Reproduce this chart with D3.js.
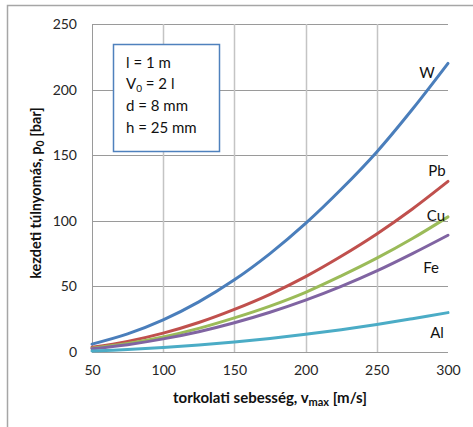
<!DOCTYPE html>
<html>
<head>
<meta charset="utf-8">
<script src="https://cdn.jsdelivr.net/npm/d3@7"></script>
<style>
  html, body { margin: 0; padding: 0; background: #fff; }
  svg { display: block; font-family: Lato, "Noto Sans", sans-serif; }
</style>
</head>
<body>
<svg id="chart" width="473" height="427"></svg>
<script>
// Muzzle velocity (m/s)
const velocity = [50, 75, 100, 125, 150, 175, 200, 225, 250, 275, 300];

// Initial overpressure (bar) for each projectile material
const pW  = [6.0, 13.8, 24.5, 38.2, 55.0, 75.0, 98.0, 124.0, 152.5, 185.0, 220.0];
const pPb = [3.6, 8.1, 14.4, 22.5, 32.5, 44.0, 57.5, 73.0, 90.0, 109.0, 130.0];
const pCu = [2.9, 6.5, 11.5, 18.0, 26.0, 35.0, 45.5, 58.0, 71.5, 86.5, 103.0];
const pFe = [2.5, 5.6, 10.0, 15.5, 22.3, 30.3, 39.5, 50.0, 61.8, 75.0, 89.0];
const pAl = [0.8, 1.9, 3.4, 5.3, 7.6, 10.3, 13.5, 17.0, 21.0, 25.4, 30.0];

const seriesNames = ["W", "Pb", "Cu", "Fe", "Al"];
const seriesValues = [pW, pPb, pCu, pFe, pAl];
const seriesColors = ["#4a7ebb", "#c0504d", "#9bbb59", "#8064a2", "#4bacc6"];

const xTicks = [50, 100, 150, 200, 250, 300];
const yTicks = [0, 50, 100, 150, 200, 250];

const boxLines = ["l = 1 m", "V0 = 2 l", "d = 8 mm", "h = 25 mm"];

const svg = d3.select("#chart");
const plot = { left: 92, right: 448, top: 24, bottom: 352 };

const x = d3.scaleLinear().domain([50, 300]).range([plot.left, plot.right]);
const y = d3.scaleLinear().domain([0, 250]).range([plot.bottom, plot.top]);

// Outer chart frame (only top and left edges fall inside the page)
svg.append("path")
  .attr("d", "M7.5,427 L7.5,5.5 L473,5.5")
  .attr("fill", "none").attr("stroke", "#a6a6a6").attr("stroke-width", 1.5);

// Horizontal gridlines
svg.append("g").selectAll("line").data(yTicks).join("line")
  .attr("x1", plot.left).attr("x2", plot.right)
  .attr("y1", d => Math.round(y(d)) + 0.5).attr("y2", d => Math.round(y(d)) + 0.5)
  .attr("stroke", "#9a9a9a").attr("stroke-width", 1);

// Vertical gridlines
svg.append("g").selectAll("line").data(xTicks.filter(d => d > 50 && d < 300)).join("line")
  .attr("x1", d => Math.round(x(d)) + 0.5).attr("x2", d => Math.round(x(d)) + 0.5)
  .attr("y1", plot.top).attr("y2", plot.bottom)
  .attr("stroke", "#c4c4c4").attr("stroke-width", 1.5);

// Left axis line
svg.append("line")
  .attr("x1", plot.left + 0.5).attr("x2", plot.left + 0.5)
  .attr("y1", plot.top).attr("y2", plot.bottom)
  .attr("stroke", "#9a9a9a").attr("stroke-width", 1);

// Tick labels
const yAxis = d3.axisLeft(y).tickValues(yTicks).tickSize(0).tickPadding(15);
svg.append("g").attr("transform", `translate(${plot.left},0)`).call(yAxis)
  .call(g => g.select(".domain").remove())
  .call(g => g.selectAll("text").attr("font-size", 14).attr("fill", "#262626")
    .attr("font-family", "Lato, sans-serif"));

const xAxis = d3.axisBottom(x).tickValues(xTicks).tickSize(0).tickPadding(13);
svg.append("g").attr("transform", `translate(0,${plot.bottom})`).call(xAxis)
  .call(g => g.select(".domain").remove())
  .call(g => g.selectAll("text").attr("font-size", 14).attr("fill", "#262626")
    .attr("font-family", "Lato, sans-serif"));

// Curves
const line = d3.line()
  .x((d, i) => x(velocity[i]))
  .y(d => y(d))
  .curve(d3.curveCatmullRom);

svg.append("g").selectAll("path").data(seriesValues).join("path")
  .attr("d", d => line(d))
  .attr("fill", "none")
  .attr("stroke", (d, i) => seriesColors[i])
  .attr("stroke-width", 3)
  .attr("stroke-linecap", "round");

// Series labels
const labelPos = [
  { name: "W",  x: 427, y: 78 },
  { name: "Pb", x: 437, y: 176 },
  { name: "Cu", x: 436, y: 221 },
  { name: "Fe", x: 431, y: 273 },
  { name: "Al", x: 437, y: 338 }
];
svg.append("g").selectAll("text").data(labelPos).join("text")
  .attr("x", d => d.x).attr("y", d => d.y)
  .attr("text-anchor", "middle")
  .attr("font-size", 15).attr("fill", "#111")
  .text(d => d.name);

// Parameter box
svg.append("rect")
  .attr("x", 113.5).attr("y", 44.5).attr("width", 106).attr("height", 107)
  .attr("fill", "#fff").attr("stroke", "#4f81bd").attr("stroke-width", 1.5);

const box = svg.append("g").attr("font-size", 15).attr("fill", "#111");
const boxY = [68, 89, 111, 133];
box.selectAll("text").data(boxLines).join("text")
  .attr("x", 126).attr("y", (d, i) => boxY[i])
  .each(function(d) {
    const t = d3.select(this);
    if (d.startsWith("V0")) {
      t.append("tspan").text("V");
      t.append("tspan").attr("font-size", 10).attr("dy", 3).text("0");
      t.append("tspan").attr("dy", -3).text(" = 2 l");
    } else {
      t.text(d);
    }
  });

// Axis titles
const xt = svg.append("text")
  .attr("x", 270).attr("y", 403)
  .attr("text-anchor", "middle")
  .attr("font-size", 15).attr("font-weight", "bold").attr("fill", "#111");
xt.append("tspan").text("torkolati sebesség, v");
xt.append("tspan").attr("font-size", 11).attr("dy", 3).text("max");
xt.append("tspan").attr("dy", -3).text(" [m/s]");

const yt = svg.append("text")
  .attr("transform", `translate(41,${(plot.top + plot.bottom) / 2 + 5}) rotate(-90)`)
  .attr("text-anchor", "middle")
  .attr("font-size", 14.5).attr("font-weight", "bold").attr("fill", "#111");
yt.append("tspan").text("kezdeti túlnyomás, p");
yt.append("tspan").attr("font-size", 10.5).attr("dy", 3).text("0");
yt.append("tspan").attr("dy", -3).text(" [bar]");
</script>
</body>
</html>
